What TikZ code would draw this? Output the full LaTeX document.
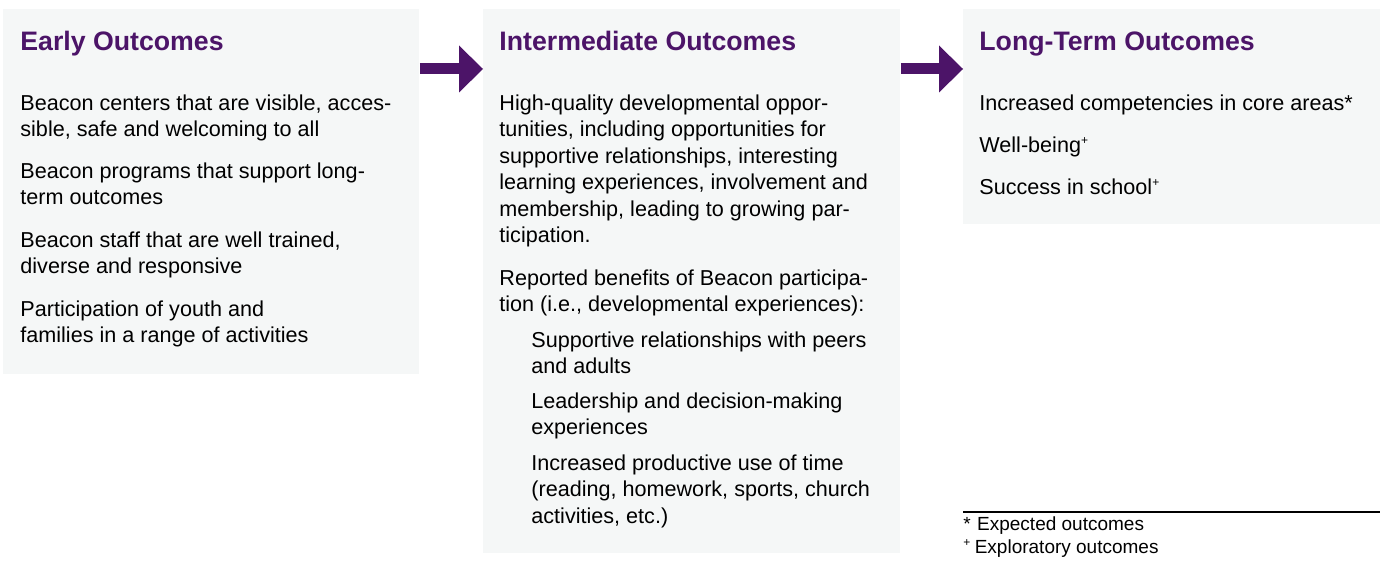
\documentclass[tikz,border=0pt]{standalone}
\usepackage{fontspec}
\setmainfont{Liberation Sans}
\usetikzlibrary{arrows.meta}

\definecolor{beaconpurple}{RGB}{76,20,104}
\definecolor{panelgray}{RGB}{245,247,247}

% strut that fixes the top of every paragraph 20 units above its first baseline
\newcommand\parstrut{\rule{0pt}{10pt}}
% small raised plus used as the "exploratory" marker
\newcommand\explmark{\raisebox{0.36em}{\fontsize{6}{6}\selectfont +}}

\begin{document}
\begin{tikzpicture}[x=0.5pt,y=-0.5pt,
  panel/.style={fill=panelgray, draw=none, inner sep=0pt, anchor=north west},
  heading/.style={anchor=base west, inner sep=0pt, text=beaconpurple,
    font=\fontsize{13.35}{16}\selectfont\bfseries},
  body/.style={anchor=north west, inner sep=0pt, align=left,
    font=\fontsize{10.8}{13.25}\selectfont},
  note/.style={anchor=base west, inner sep=0pt, font=\fontsize{9.5}{11.5}\selectfont},
  flow/.style={draw=beaconpurple, line width=5.5pt,
    -{Triangle[length=12pt,width=23.5pt,line width=0pt]}}
]
\useasboundingbox (0,0) rectangle (1380,561);

% the three outcome panels
\node[panel, minimum width=208pt, minimum height=182.5pt] (early) at (3,9) {};
\node[panel, minimum width=208.5pt, minimum height=272pt] (inter) at (483,9) {};
\node[panel, minimum width=208.5pt, minimum height=107.5pt] (long) at (963,9) {};

% arrows between panels
\coordinate (flowrow) at (0,69);
\draw[flow] (early.east |- flowrow) -- (inter.west |- flowrow);
\draw[flow] (inter.east |- flowrow) -- (long.west |- flowrow);

% headings
\node[heading] (earlyhead) at (20,51) {Early Outcomes};
\node[heading] (interhead) at (499,51) {Intermediate Outcomes};
\node[heading] (longhead) at (979,51) {Long-Term Outcomes};

% early outcomes
\node[body] (e1) at (20,90) {\parstrut Beacon centers that are visible, acces-\\sible, safe and welcoming to all};
\node[body] (e2) at (20,158) {\parstrut Beacon programs that support long-\\term outcomes};
\node[body] (e3) at (20,227) {\parstrut Beacon staff that are well trained,\\diverse and responsive};
\node[body] (e4) at (20,296) {\parstrut Participation of youth and\\families in a range of activities};

% intermediate outcomes
\node[body] (i1) at (499,90) {\parstrut High-quality developmental oppor-\\tunities, including opportunities for\\supportive relationships, interesting\\learning experiences, involvement and\\membership, leading to growing par-\\ticipation.};
\node[body] (i2) at (499,265) {\parstrut Reported benefits of Beacon participa-\\tion (i.e., developmental experiences):};
\node[body] (i3) at (531,327) {\parstrut Supportive relationships with peers\\and adults};
\node[body] (i4) at (531,388) {\parstrut Leadership and decision-making\\experiences};
\node[body] (i5) at (531,450) {\parstrut Increased productive use of time\\(reading, homework, sports, church\\activities, etc.)};

% long-term outcomes
\node[body] (l1) at (979,90) {\parstrut Increased competencies in core areas*};
\node[body] (l2) at (979,132) {\parstrut Well-being\explmark};
\node[body] (l3) at (979,174) {\parstrut Success in school\explmark};

% legend
\draw[line width=0.6pt] (963,512) -- (1380,512);
\node[note] (n1) at (963,530) {*\hspace{3.2pt}Expected outcomes};
\node[note] (n2) at (963,553) {\explmark\hspace{2.2pt}Exploratory outcomes};
\end{tikzpicture}
\end{document}
